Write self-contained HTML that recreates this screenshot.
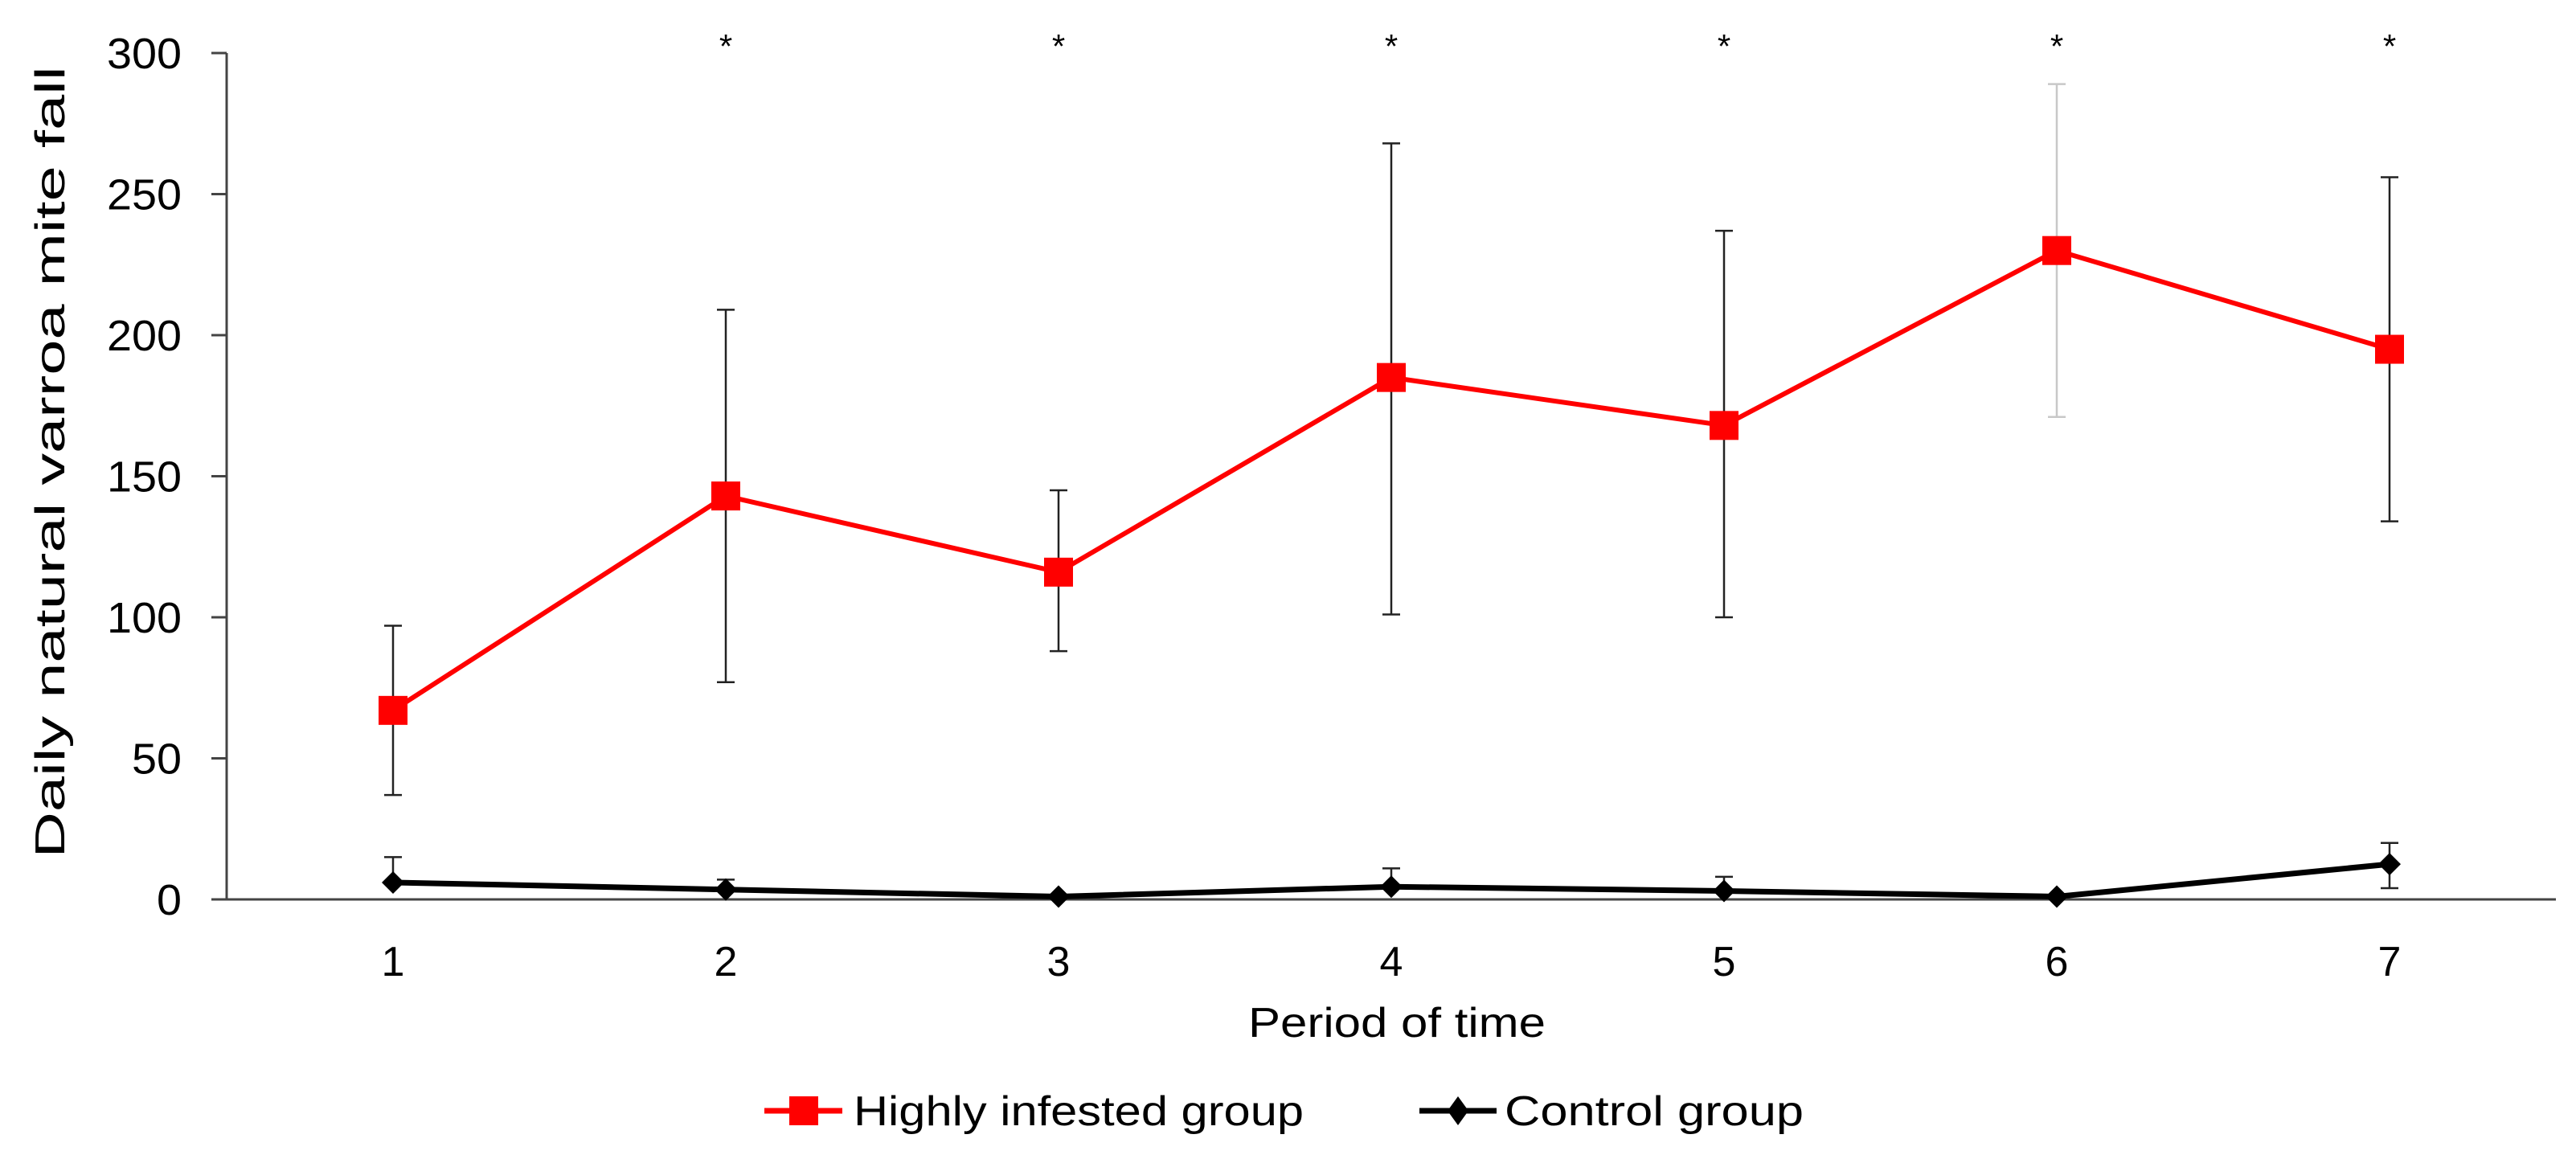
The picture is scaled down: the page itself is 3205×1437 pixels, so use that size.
<!DOCTYPE html>
<html><head><meta charset="utf-8"><style>
html,body{margin:0;padding:0;background:#fff;}
svg{display:block;font-family:"Liberation Sans",Arial,sans-serif;}
</style></head><body>
<svg id="chart" width="3205" height="1437" viewBox="0 0 3205 1437">
<rect width="3205" height="1437" fill="#fff"/>
<g id="axes"></g>
<g id="series"></g>
<text transform="translate(80,575) rotate(-90)" text-anchor="middle" font-size="52" textLength="985" lengthAdjust="spacingAndGlyphs">Daily natural varroa mite fall</text>
<text x="1738" y="1290" text-anchor="middle" font-size="52" textLength="370" lengthAdjust="spacingAndGlyphs">Period of time</text>
<g>
<g>
<line x1="951" y1="1382" x2="1048" y2="1382" stroke="#ff0000" stroke-width="7"/>
<rect x="982" y="1364" width="36" height="36" fill="#ff0000"/>
<text x="1062" y="1400" font-size="52" textLength="560" lengthAdjust="spacingAndGlyphs">Highly infested group</text>
</g>
<g>
<line x1="1766" y1="1382" x2="1862" y2="1382" stroke="#000" stroke-width="7"/>
<polygon points="1814,1364 1827,1382 1814,1400 1801,1382" fill="#000"/>
<text x="1872" y="1400" font-size="52" textLength="372" lengthAdjust="spacingAndGlyphs">Control group</text>
</g>
</g>
</svg>
<script>
const categories = ["1","2","3","4","5","6","7"];
const yTicks = [0,50,100,150,200,250,300];
const infestedMean = [67,143,116,185,168,230,195];
const infestedLow = [37,77,88,101,100,171,134];
const infestedHigh = [97,209,145,268,237,289,256];
const controlMean = [6,3.5,1,4.5,3,1,12.5];
const controlLow = [6,3.5,1,4.5,3,1,4];
const controlHigh = [15,7,1,11,8,1,20];
const significant = [false,true,true,true,true,true,true];

const NS="http://www.w3.org/2000/svg";
const x0=282, band=414, y0=1119, yTop=66, yMax=300;
const xs=i=>x0+band*(i+0.5);
const ys=v=>y0-(v/yMax)*(y0-yTop);
function mk(tag,attrs,parent){const e=document.createElementNS(NS,tag);for(const k in attrs)e.setAttribute(k,attrs[k]);parent.appendChild(e);return e;}
const axes=document.getElementById('axes'), ser=document.getElementById('series');

const ya=mk('line',{x1:x0,y1:yTop,x2:x0,y2:y0,stroke:'#444','stroke-width':3},axes);


yTicks.forEach(t=>{
  const l=mk('line',{x1:263,y1:ys(t),x2:x0,y2:ys(t),stroke:'#444','stroke-width':3},axes);
  
  
  const s=String(t);
  const tx=mk('text',{x:226,y:ys(t)+19,'text-anchor':'end','font-size':54,textLength:s.length*31,lengthAdjust:'spacingAndGlyphs'},axes);
  tx.textContent=s;
  
  
});
const xa=mk('line',{x1:x0,y1:y0,x2:x0+band*7,y2:y0,stroke:'#444','stroke-width':3},axes);


categories.forEach((c,i)=>{
  const tx=mk('text',{x:xs(i),y:1214,'text-anchor':'middle','font-size':52},axes);
  tx.textContent=c;
  
  
  if(significant[i]){
    const a=mk('text',{x:xs(i),y:72,'text-anchor':'middle','font-size':42},axes);
    a.textContent='*';
    
    
  }
});

function errBar(i,lo,hi,color,name){
  const g=mk('g',{},ser);
  
  
  mk('line',{x1:xs(i),y1:ys(lo),x2:xs(i),y2:ys(hi),stroke:color,'stroke-width':2.5},g);
  mk('line',{x1:xs(i)-11,y1:ys(lo),x2:xs(i)+11,y2:ys(lo),stroke:color,'stroke-width':2.5},g);
  mk('line',{x1:xs(i)-11,y1:ys(hi),x2:xs(i)+11,y2:ys(hi),stroke:color,'stroke-width':2.5},g);
}
infestedMean.forEach((v,i)=>errBar(i,infestedLow[i],infestedHigh[i],i===5?'#c8c8c8':'#222','error-bar-infested'));
controlMean.forEach((v,i)=>{ if(controlHigh[i]>controlLow[i]) errBar(i,controlLow[i],controlHigh[i],'#222','error-bar-control'); });

const cl=mk('polyline',{points:controlMean.map((v,i)=>xs(i)+','+ys(v)).join(' '),fill:'none',stroke:'#000','stroke-width':7,'stroke-linejoin':'round'},ser);


controlMean.forEach((v,i)=>{
  const x=xs(i),y=ys(v);
  const d=mk('polygon',{points:`${x},${y-14} ${x+14},${y} ${x},${y+14} ${x-14},${y}`,fill:'#000'},ser);
  
  
});
const rl=mk('polyline',{points:infestedMean.map((v,i)=>xs(i)+','+ys(v)).join(' '),fill:'none',stroke:'#ff0000','stroke-width':6,'stroke-linejoin':'round'},ser);


infestedMean.forEach((v,i)=>{
  const r=mk('rect',{x:xs(i)-18,y:ys(v)-18,width:36,height:36,fill:'#ff0000'},ser);
  
  
});
</script>
</body></html>
